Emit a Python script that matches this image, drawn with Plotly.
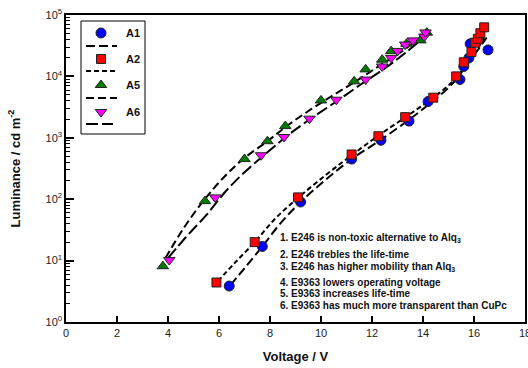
import plotly.graph_objects as go

# ---------------- data ----------------
a1_v = [6.4, 7.7, 9.2, 11.2, 12.35, 13.45, 14.2, 15.45, 15.6, 15.8, 15.85, 16.55]
a1_l = [3.85, 17, 90, 450, 910, 1870, 3900, 8900, 14500, 20000, 34000, 27000]

a2_v = [5.9, 7.4, 9.1, 11.2, 12.25, 13.3, 14.4, 15.3, 15.6, 15.9, 16.05, 16.15, 16.25, 16.4]
a2_l = [4.4, 20, 107, 535, 1060, 2170, 4500, 10000, 17000, 25000, 35500, 41000, 50500, 63000]

a5_v = [3.8, 5.45, 7.0, 7.9, 8.6, 10.0, 11.3, 11.75, 12.4, 12.75, 13.35, 13.9, 14.15]
a5_l = [8.1, 93, 450, 880, 1550, 4060, 8300, 13000, 18700, 25800, 34000, 38600, 51500]

a6_v = [4.05, 5.85, 7.65, 8.55, 9.55, 10.6, 11.75, 12.4, 12.75, 13.0, 13.3, 13.6, 14.05, 14.1]
a6_l = [10.2, 107, 520, 1030, 2050, 4170, 8880, 14500, 20000, 26000, 33000, 38600, 44500, 52000]

# dashed guide curves
a1_fit_v = [6.45, 7.0, 7.7, 8.4, 9.2, 10.2, 11.2, 12.3, 13.4, 14.3, 15.1, 15.8, 16.5]
a1_fit_l = [4, 7.5, 17, 40, 90, 210, 450, 900, 1900, 3700, 7200, 17000, 43000]
a2_fit_v = [5.95, 6.6, 7.4, 8.2, 9.1, 10.2, 11.2, 12.2, 13.3, 14.3, 15.1, 15.8, 16.4]
a2_fit_l = [4.6, 9, 20, 48, 105, 250, 520, 1050, 2150, 4200, 7800, 17500, 42000]
a5_fit_v = [3.9, 4.6, 5.4, 6.2, 7.0, 7.9, 8.7, 9.6, 10.5, 11.4, 12.3, 13.2, 14.25]
a5_fit_l = [11, 33, 95, 230, 470, 880, 1600, 2900, 5000, 8500, 15000, 26000, 55000]
a6_fit_v = [4.0, 4.7, 5.5, 6.3, 7.1, 7.9, 8.7, 9.6, 10.6, 11.6, 12.5, 13.3, 14.1]
a6_fit_l = [11, 24, 55, 140, 300, 580, 1100, 2050, 3900, 7600, 13500, 24000, 45000]

series_names = ["A1", "A2", "A5", "A6"]
x_ticks = [0, 2, 4, 6, 8, 10, 12, 14, 16, 18]
y_ticks = [1, 10, 100, 1000, 10000, 100000]
y_ticktext = ["10<sup>0</sup>", "10<sup>1</sup>", "10<sup>2</sup>", "10<sup>3</sup>",
              "10<sup>4</sup>", "10<sup>5</sup>"]

notes = [
    "1. E246 is non-toxic alternative to Alq<sub>3</sub>",
    "2. E246 trebles the life-time",
    "3. E246 has higher mobility than Alq<sub>3</sub>",
    "4. E9363 lowers operating voltage",
    "5. E9363 increases life-time",
    "6. E9363 has much more transparent than CuPc",
]

# ---------------- styles ----------------
FONT = "Arial, Liberation Sans, sans-serif"
colors = {"A1": "#0000ff", "A2": "#ff0000", "A5": "#007a00", "A6": "#ff00ff"}
symbols = {"A1": "circle", "A2": "square", "A5": "triangle-up", "A6": "triangle-down"}
sizes = {"A1": 10, "A2": 9, "A5": 10, "A6": 10}
dashes = {"A1": "9px,4px", "A2": "5px,3px", "A5": "8px,4px", "A6": "12px,4px"}

pts = {"A1": (a1_v, a1_l), "A2": (a2_v, a2_l), "A5": (a5_v, a5_l), "A6": (a6_v, a6_l)}
fits = {"A1": (a1_fit_v, a1_fit_l), "A2": (a2_fit_v, a2_fit_l),
        "A5": (a5_fit_v, a5_fit_l), "A6": (a6_fit_v, a6_fit_l)}

fig = go.Figure()

for n in series_names:
    fv, fl = fits[n]
    fig.add_trace(go.Scatter(x=fv, y=fl, mode="lines", showlegend=False,
                             line=dict(color="black", width=2, dash=dashes[n], shape="spline"),
                             hoverinfo="skip"))
for n in series_names:
    v, l = pts[n]
    fig.add_trace(go.Scatter(x=v, y=l, mode="markers", name=n, showlegend=False,
                             marker=dict(symbol=symbols[n], size=sizes[n], color=colors[n],
                                         line=dict(color="#222", width=1))))

# ---------------- legend drawn on an overlay pixel axis ----------------
PL, PR, PT, PB = 66, 525, 15, 322
leg_rows = {"A1": 33, "A2": 59, "A5": 85, "A6": 112}
leg_line_rows = {"A1": 46, "A2": 71, "A5": 98, "A6": 124}
for n in series_names:
    fig.add_trace(go.Scatter(x=[101], y=[leg_rows[n]], xaxis="x2", yaxis="y2", mode="markers",
                             showlegend=False, hoverinfo="skip",
                             marker=dict(symbol=symbols[n], size=sizes[n], color=colors[n],
                                         line=dict(color="#222", width=1))))
    x_end = 113 if n == "A6" else 117
    fig.add_shape(type="line", xref="x2", yref="y2", x0=86, x1=x_end,
                  y0=leg_line_rows[n], y1=leg_line_rows[n],
                  line=dict(color="black", width=2, dash=dashes[n]))
    fig.add_annotation(xref="x2", yref="y2", x=124, y=leg_rows[n], text="<b>%s</b>" % n,
                       showarrow=False, xanchor="left", yanchor="middle",
                       font=dict(family=FONT, size=11, color="#111"))
fig.add_shape(type="rect", xref="x2", yref="y2", x0=81, x1=145, y0=21, y1=134,
              line=dict(color="black", width=1), fillcolor="rgba(0,0,0,0)")

note_y = [238, 254, 267, 282, 293, 305]
for t, yy in zip(notes, note_y):
    fig.add_annotation(xref="x2", yref="y2", x=278, y=yy, text="<b>%s</b>" % t,
                       showarrow=False, xanchor="left", yanchor="middle",
                       font=dict(family=FONT, size=10, color="#111"))

minor_vals = [k * 10 ** d for d in range(0, 5) for k in range(2, 10)]

fig.update_layout(
    width=528, height=368,
    margin=dict(l=PL, r=528 - PR, t=PT, b=368 - PB),
    paper_bgcolor="white", plot_bgcolor="white",
    font=dict(family=FONT, size=11, color="#222"),
    showlegend=False,
    xaxis=dict(range=[0, 18], tickvals=x_ticks, ticks="inside", ticklen=6, tickwidth=1.5,
               tickcolor="black", showline=True, linewidth=1.5, linecolor="black",
               mirror=True, showgrid=False, zeroline=False, automargin=False,
               ticklabeloverflow="allow",
               tickfont=dict(size=11, color="#222"),
               title=dict(text="<b>Voltage / V</b>", font=dict(size=13, color="#111"), standoff=14)),
    yaxis=dict(type="log", range=[0, 5], tickvals=y_ticks, ticktext=y_ticktext,
               ticks="inside", ticklen=8, tickwidth=1.5, tickcolor="black",
               minor=dict(ticks="inside", ticklen=4, tickwidth=1, tickcolor="black",
                          tickvals=minor_vals, showgrid=False),
               showline=True, linewidth=1.5, linecolor="black", mirror=True,
               showgrid=False, zeroline=False, automargin=False,
               ticklabeloverflow="allow",
               tickfont=dict(size=11, color="#222"),
               title=dict(text="<b>Luminance / cd m<sup>-2</sup></b>",
                          font=dict(size=13, color="#111"), standoff=22)),
    xaxis2=dict(overlaying="x", range=[PL, PR], visible=False, fixedrange=True),
    yaxis2=dict(overlaying="y", range=[PB, PT], visible=False, fixedrange=True),
)

fig.write_html("out.html")
